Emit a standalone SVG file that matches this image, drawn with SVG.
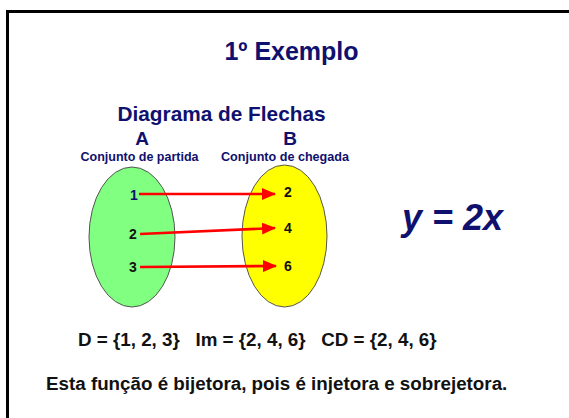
<svg xmlns="http://www.w3.org/2000/svg" width="569" height="418" viewBox="0 0 569 418">
<defs>
<style>
text{font-family:"Liberation Sans",Arial,sans-serif;font-weight:bold}
.navy{fill:#10106e}
.blk{fill:#111}
.num{font-size:14px}
.conn line{stroke:#ff0000;stroke-width:2.6}
</style>
<marker id="ah" viewBox="0 0 14 12" refX="13" refY="6" markerWidth="14" markerHeight="12" markerUnits="userSpaceOnUse" orient="auto">
<path d="M0,0 L14,6 L0,12 z" fill="#ff0000"/>
</marker>
</defs>
<rect width="569" height="418" fill="#fff"/>
<path d="M7.5,418 V11.5 H569" fill="none" stroke="#000" stroke-width="3"/>
<text x="291.5" y="60" text-anchor="middle" font-size="25" class="navy">1º Exemplo</text>
<text x="221.5" y="121" text-anchor="middle" font-size="20.8" class="navy">Diagrama de Flechas</text>
<text x="142" y="145" text-anchor="middle" font-size="19" class="navy">A</text>
<text x="290" y="145" text-anchor="middle" font-size="19" class="navy">B</text>
<text x="139.5" y="161" text-anchor="middle" font-size="12.5" class="navy">Conjunto de partida</text>
<text x="285" y="161" text-anchor="middle" font-size="12.6" class="navy">Conjunto de chegada</text>
<g id="setA">
<ellipse cx="132" cy="237" rx="43" ry="70" fill="#80ff80" stroke="#555" stroke-width="1"/>
<text x="134" y="200" text-anchor="middle" class="num navy">1</text>
<text x="133" y="239" text-anchor="middle" class="num blk">2</text>
<text x="133" y="272" text-anchor="middle" class="num blk">3</text>
</g>
<g id="setB">
<ellipse cx="284.5" cy="236" rx="42.5" ry="71" fill="#ffff00" stroke="#555" stroke-width="1"/>
<text x="288" y="197" text-anchor="middle" class="num blk">2</text>
<text x="288" y="233" text-anchor="middle" class="num blk">4</text>
<text x="288" y="271" text-anchor="middle" class="num blk">6</text>
</g>
<g id="connectors" class="conn">
<line x1="139" y1="194" x2="275" y2="194" marker-end="url(#ah)"/>
<line x1="140" y1="234" x2="275" y2="228" marker-end="url(#ah)"/>
<line x1="140" y1="267" x2="276" y2="266" marker-end="url(#ah)"/>
</g>
<text x="402" y="230" font-size="36" font-style="italic" class="navy">y = 2x</text>
<text x="78" y="346" font-size="18.8" class="blk" xml:space="preserve">D = {1, 2, 3}   Im = {2, 4, 6}   CD = {2, 4, 6}</text>
<text x="46" y="390" font-size="18.8" class="blk">Esta função é bijetora, pois é injetora e sobrejetora.</text>
</svg>
